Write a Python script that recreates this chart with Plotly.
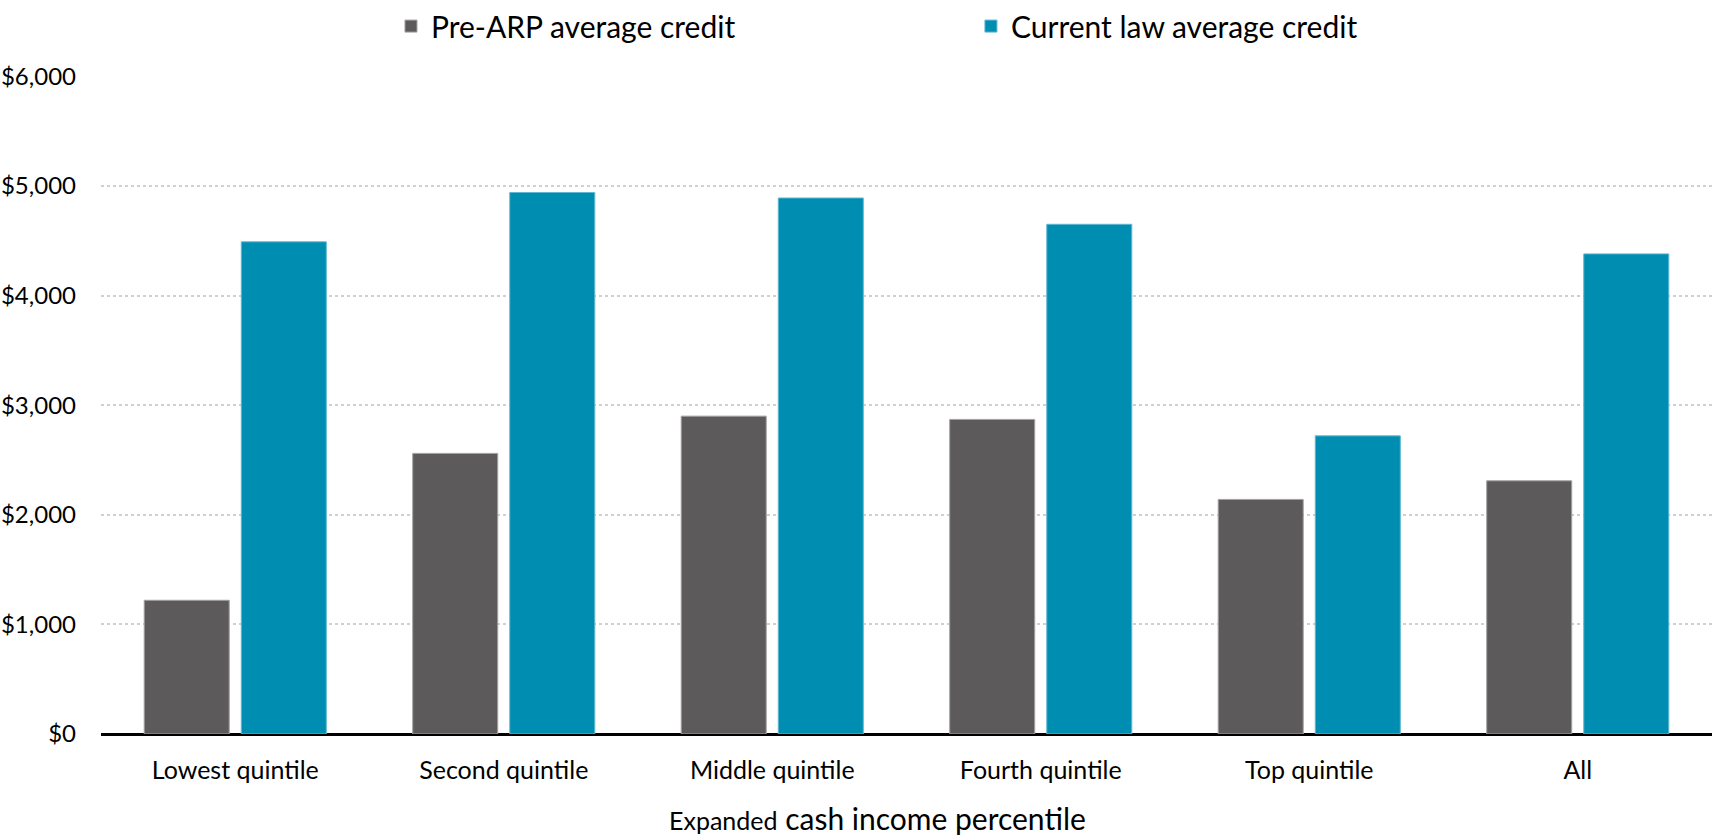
import plotly.graph_objects as go

categories = ["Lowest quintile", "Second quintile", "Middle quintile",
              "Fourth quintile", "Top quintile", "All"]
pre_arp = [1220, 2560, 2900, 2870, 2140, 2310]
current_law = [4490, 4940, 4890, 4650, 2720, 4380]
series_names = ["Pre-ARP average credit", "Current law average credit"]
tick_vals = [0, 1000, 2000, 3000, 4000, 5000, 6000]
tick_text = ["$0", "$1,000", "$2,000", "$3,000", "$4,000", "$5,000", "$6,000"]
x_title = "<span style='font-size:25px'>Expanded</span> cash income percentile"

FONT = "Lato"
GRAY = "#5D5A5B"
TEAL = "#008DB2"

fig = go.Figure()
fig.add_trace(go.Bar(x=categories, y=pre_arp, name=series_names[0], legend="legend",
                     showlegend=True,
                     marker=dict(color=GRAY, line=dict(color="#A3A1A2", width=1))))
fig.add_trace(go.Bar(x=categories, y=current_law, name=series_names[1], legend="legend2",
                     showlegend=True,
                     marker=dict(color=TEAL, line=dict(color="#5FB7D0", width=1))))

legend_common = dict(orientation="h", xanchor="left", y=1.1154, yanchor="top",
                     font=dict(size=30, family=FONT), itemclick=False,
                     bgcolor="rgba(0,0,0,0)", borderwidth=0)

fig.update_layout(
    width=1712, height=840,
    showlegend=True,
    margin=dict(l=101, r=0, t=76, b=106, autoexpand=False),
    paper_bgcolor="white", plot_bgcolor="white",
    barmode="group", bargap=0.277, bargroupgap=0.124,
    font=dict(family=FONT, color="#000000", size=24),
    legend=dict(x=0.18, **legend_common),
    legend2=dict(x=0.540, **legend_common),
    xaxis=dict(range=[-0.5, 5.5], showgrid=False, ticks="", showline=False,
               tickfont=dict(size=25, family=FONT), ticklabelstandoff=19),
    yaxis=dict(range=[0, 6003], tickvals=tick_vals, ticktext=tick_text,
               showgrid=True, gridcolor="#D0D0D0", griddash="dot", gridwidth=1.5,
               zeroline=True, zerolinecolor="#000000", zerolinewidth=2.5,
               ticks="", tickfont=dict(size=24, family=FONT), ticklabelstandoff=24),
    annotations=[dict(text=x_title, xref="paper", yref="paper", x=0.4823, y=-0.128,
                      xanchor="center", yanchor="middle", showarrow=False,
                      font=dict(size=30, family=FONT, color="#000000"))],
)

fig.write_html("out.html")
